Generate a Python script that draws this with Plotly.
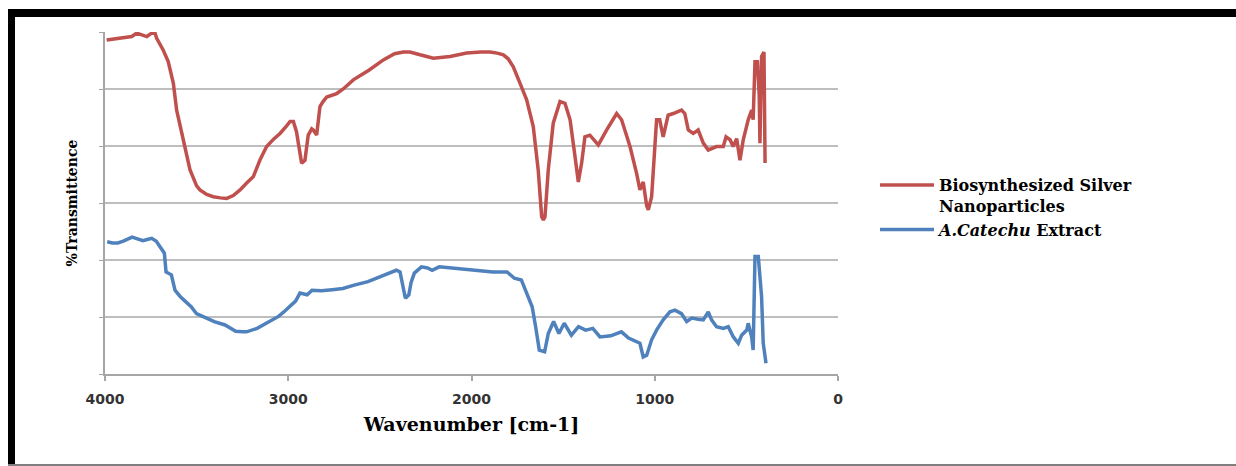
import plotly.graph_objects as go

# ---- data (y in arbitrary %T units, gridlines every 10) ----
wn_silver = [3991, 3950, 3918, 3880, 3854, 3827, 3800, 3772, 3745, 3727, 3718, 3682, 3655, 3627, 3609,
             3590, 3572, 3536, 3500, 3482, 3445, 3409, 3370, 3336, 3300, 3263, 3227, 3191, 3155, 3118,
             3080, 3045, 3010, 2990, 2972, 2955, 2945, 2927, 2909, 2891, 2872, 2863, 2845, 2827, 2810,
             2790, 2736, 2700, 2645, 2560, 2481, 2420, 2372, 2336, 2281, 2208, 2117, 2026, 1950, 1899,
             1860, 1826, 1800, 1772, 1735, 1699, 1663, 1636, 1617, 1608, 1599, 1581, 1554, 1517, 1490,
             1462, 1435, 1417, 1399, 1381, 1354, 1330, 1308, 1263, 1208, 1181, 1135, 1099, 1081, 1063,
             1044, 1035, 1017, 990, 973, 954, 927, 899, 854, 836, 817, 790, 763, 735, 708,
             663, 626, 611, 589, 572, 553, 535, 517, 490, 471, 463, 453, 440, 430, 426,
             417, 404, 398]
t_silver = [58.6, 58.8, 58.9, 59.0, 59.2, 59.8, 59.5, 59.2, 59.8, 59.8, 58.9, 56.8, 54.8, 51.0, 46.3,
            43.5, 40.5, 35.8, 33.0, 32.3, 31.5, 31.1, 30.9, 30.8, 31.3, 32.3, 33.5, 34.6, 37.5, 39.9,
            41.2, 42.2, 43.5, 44.3, 44.3, 42.5, 40.5, 37.0, 37.5, 41.9, 43.0, 42.8, 41.9, 46.9, 47.8,
            48.6, 49.2, 50.0, 51.6, 53.3, 55.1, 56.2, 56.5, 56.5, 56.0, 55.4, 55.7, 56.3, 56.5, 56.5,
            56.3, 56.0, 55.3, 53.9, 51.0, 48.1, 43.4, 35.8, 27.6, 27.0, 27.6, 35.8, 44.0, 47.8, 47.5,
            44.6, 38.1, 33.7, 37.0, 41.6, 41.9, 41.0, 40.2, 42.8, 45.7, 44.6, 39.9, 35.2, 32.3, 33.7,
            29.5, 28.8, 31.1, 44.6, 44.6, 41.6, 45.4, 45.7, 46.3, 45.7, 42.8, 42.2, 42.8, 40.5, 39.3,
            39.9, 39.9, 41.6, 41.1, 39.9, 41.3, 37.5, 41.1, 44.6, 46.3, 44.6, 54.8, 54.8, 49.0, 40.5,
            55.7, 56.5, 37.0]

wn_extract = [3988, 3960, 3930, 3900, 3852, 3820, 3793, 3770, 3745, 3720, 3706, 3676, 3667, 3650, 3638,
              3618, 3590, 3560, 3530, 3501, 3450, 3404, 3345, 3287, 3250, 3228, 3170, 3120, 3092, 3053,
              3020, 2994, 2960, 2936, 2897, 2870, 2858, 2819, 2760, 2702, 2640, 2565, 2480, 2410, 2390,
              2375, 2361, 2342, 2330, 2312, 2273, 2240, 2215, 2176, 2079, 1981, 1883, 1806, 1766, 1728,
              1698, 1669, 1650, 1630, 1601, 1581, 1552, 1523, 1494, 1455, 1416, 1377, 1338, 1299, 1240,
              1182, 1143, 1104, 1081, 1063, 1044, 1017, 990, 954, 917, 890, 854, 826, 798, 763,
              735, 708, 690, 663, 626, 599, 571, 544, 526, 498, 490, 471, 463, 453, 435,
              417, 408, 393]
t_extract = [23.2, 23.0, 23.0, 23.3, 24.0, 23.6, 23.4, 23.6, 23.8, 23.3, 22.6, 21.2, 17.9, 17.6, 17.4,
             14.7, 13.6, 12.7, 11.8, 10.6, 9.8, 9.2, 8.6, 7.5, 7.4, 7.4, 8.0, 8.9, 9.5, 10.1,
             11.0, 11.8, 12.8, 14.2, 13.9, 14.7, 14.7, 14.6, 14.8, 15.0, 15.6, 16.2, 17.3, 18.2, 17.9,
             15.5, 13.3, 13.9, 16.0, 17.7, 18.8, 18.6, 18.2, 18.8, 18.5, 18.2, 17.9, 17.9, 16.8, 16.5,
             13.9, 11.8, 8.3, 4.2, 3.9, 7.1, 9.2, 7.1, 8.9, 6.8, 8.3, 7.7, 8.0, 6.5, 6.7,
             7.4, 6.3, 5.7, 5.4, 3.0, 3.3, 6.0, 7.7, 9.5, 10.9, 11.2, 10.6, 9.2, 9.8, 9.6,
             9.5, 10.9, 9.5, 8.3, 8.0, 8.3, 6.5, 5.4, 6.8, 7.7, 8.9, 6.5, 4.2, 20.6, 20.6,
             13.6, 5.4, 1.9]

x_ticks = [4000, 3000, 2000, 1000, 0]
x_labels = ["4000", "3000", "2000", "1000", "0"]
series_names = ["Biosynthesized Silver<br>Nanoparticles", "<i>A.Catechu</i> Extract"]

# ---- layout geometry (pixels) ----
W, H = 1236, 466
L, R, T, B = 105, 838, 32, 374


def px_x(x):
    return (x - L) / (R - L)


def px_y(y):
    return 1 - (y - T) / (B - T)


fig = go.Figure()
fig.add_trace(go.Scatter(x=wn_silver, y=t_silver, mode="lines", name=series_names[0],
                         line=dict(color="#C0504D", width=3.5)))
fig.add_trace(go.Scatter(x=wn_extract, y=t_extract, mode="lines", name=series_names[1],
                         line=dict(color="#4F81BD", width=3.5)))

shapes = [
    # thick black frame top and left, thin grey bottom
    dict(type="rect", xref="paper", yref="paper", x0=px_x(8), x1=px_x(1240), y0=px_y(17), y1=px_y(9),
         fillcolor="black", line=dict(width=0)),
    dict(type="rect", xref="paper", yref="paper", x0=px_x(8), x1=px_x(15), y0=px_y(470), y1=px_y(9),
         fillcolor="black", line=dict(width=0)),
    dict(type="line", xref="paper", yref="paper", x0=px_x(8), x1=px_x(1240), y0=px_y(465), y1=px_y(465),
         line=dict(color="#7F7F7F", width=2)),
]

fig.update_layout(
    width=W, height=H, autosize=False,
    margin=dict(l=L, r=W - R, t=T, b=H - B, pad=0),
    paper_bgcolor="white", plot_bgcolor="white",
    showlegend=True,
    legend=dict(x=px_x(875), y=px_y(168), xanchor="left", yanchor="top", valign="top",
                itemwidth=54,
                font=dict(family="DejaVu Serif", size=16, color="black", weight="bold"),
                bgcolor="rgba(0,0,0,0)", borderwidth=0, tracegroupgap=4),
    shapes=shapes,
    xaxis=dict(range=[4000, 0], tickvals=x_ticks, ticktext=x_labels, ticks="outside", ticklen=5,
               tickcolor="#A6A6A6", tickwidth=1.5, showline=True, linecolor="#A6A6A6", linewidth=1.5,
               showgrid=False, zeroline=False, ticklabelstandoff=6,
               tickfont=dict(family="DejaVu Sans", size=14, color="#333333", weight="bold"),
               title=dict(text="Wavenumber [cm-1]", standoff=12,
                          font=dict(family="DejaVu Serif", size=19, color="black", weight="bold"))),
    yaxis=dict(range=[0, 60], dtick=10, showticklabels=False, ticks="outside", ticklen=4,
               tickcolor="#A6A6A6", showline=True, linecolor="#A6A6A6", linewidth=1.5,
               showgrid=True, gridcolor="#BEBEBE", gridwidth=1.5, zeroline=False,
               title=dict(text="%Transmittence", standoff=18,
                          font=dict(family="DejaVu Serif", size=14, color="black", weight="bold"))),
)

fig.write_html("out.html")
